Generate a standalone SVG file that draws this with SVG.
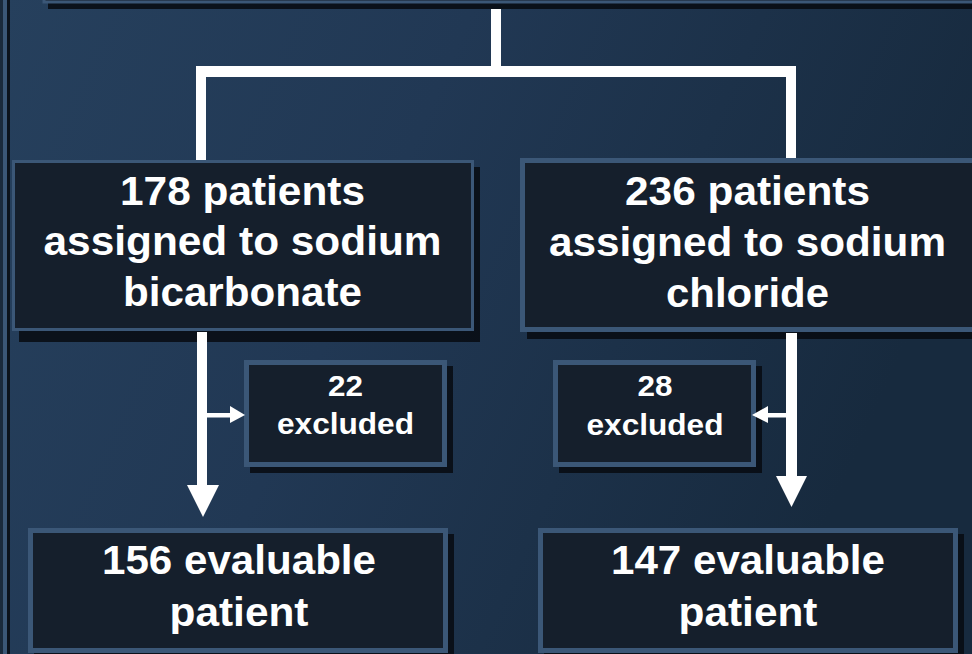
<svg xmlns="http://www.w3.org/2000/svg" width="972" height="654" viewBox="0 0 972 654">
<style>
.box{fill:#151f2c;stroke:#3b5777;}
.sh{fill:#070b10;opacity:0.85;}
.t{font-family:"Liberation Sans",Arial,sans-serif;font-weight:bold;fill:#ffffff;text-anchor:middle;}
.big{font-size:40px;}
.sm{font-size:30px;}
.ln{fill:#ffffff;}
</style>
<defs>
<linearGradient id="bg" x1="0" y1="0" x2="1" y2="0.3">
<stop offset="0" stop-color="#26405d"/>
<stop offset="0.45" stop-color="#213854"/>
<stop offset="1" stop-color="#172a3e"/>
</linearGradient>
</defs>
<rect x="0" y="0" width="972" height="654" fill="url(#bg)"/>
<g id="frame-left">
<rect class="sh" x="-100" y="-10" width="110" height="680"/>
<rect x="-100" y="-10" width="105" height="680" fill="#1a2a3c" stroke="#3b5777" stroke-width="4"/>
</g>
<g id="top-box">
<rect class="sh" x="48" y="-100" width="940" height="109"/>
<rect class="box" x="44" y="-100" width="940" height="102" stroke-width="3"/>
</g>
<g id="node-bicarbonate">
<rect class="sh" x="19" y="167" width="461" height="175"/>
<rect class="box" x="13.5" y="161.5" width="459" height="168" stroke-width="3"/>
<text class="t big" x="242.5" y="205" textLength="245" lengthAdjust="spacingAndGlyphs">178 patients</text>
<text class="t big" x="242.5" y="255" textLength="398" lengthAdjust="spacingAndGlyphs">assigned to sodium</text>
<text class="t big" x="242.5" y="306" textLength="239" lengthAdjust="spacingAndGlyphs">bicarbonate</text>
</g>
<g id="node-chloride">
<rect class="sh" x="527" y="165" width="460" height="174"/>
<rect class="box" x="522.5" y="160.5" width="460" height="169" stroke-width="5"/>
<text class="t big" x="747.5" y="205" textLength="245" lengthAdjust="spacingAndGlyphs">236 patients</text>
<text class="t big" x="747.5" y="256" textLength="397" lengthAdjust="spacingAndGlyphs">assigned to sodium</text>
<text class="t big" x="747.5" y="307" textLength="163" lengthAdjust="spacingAndGlyphs">chloride</text>
</g>
<g id="node-excluded-22">
<rect class="sh" x="250" y="366" width="203" height="107"/>
<rect class="box" x="246.5" y="362.5" width="198" height="102" stroke-width="5"/>
<text class="t sm" x="345.5" y="396" textLength="35" lengthAdjust="spacingAndGlyphs">22</text>
<text class="t sm" x="345.5" y="434" textLength="137" lengthAdjust="spacingAndGlyphs">excluded</text>
</g>
<g id="node-excluded-28">
<rect class="sh" x="559" y="366" width="203" height="107"/>
<rect class="box" x="555.5" y="362.5" width="198" height="102" stroke-width="5"/>
<text class="t sm" x="655" y="396" textLength="35" lengthAdjust="spacingAndGlyphs">28</text>
<text class="t sm" x="655" y="435" textLength="137" lengthAdjust="spacingAndGlyphs">excluded</text>
</g>
<g id="node-evaluable-156">
<rect class="sh" x="34" y="534" width="420" height="130"/>
<rect class="box" x="30.5" y="530.5" width="415" height="120" stroke-width="5"/>
<text class="t big" x="239" y="574" textLength="274" lengthAdjust="spacingAndGlyphs">156 evaluable</text>
<text class="t big" x="239" y="626" textLength="139" lengthAdjust="spacingAndGlyphs">patient</text>
</g>
<g id="node-evaluable-147">
<rect class="sh" x="544" y="534" width="420" height="130"/>
<rect class="box" x="540.5" y="530.5" width="415" height="120" stroke-width="5"/>
<text class="t big" x="748" y="574" textLength="274" lengthAdjust="spacingAndGlyphs">147 evaluable</text>
<text class="t big" x="748" y="626" textLength="139" lengthAdjust="spacingAndGlyphs">patient</text>
</g>
<g id="connectors">
<rect class="ln" x="491" y="9" width="10" height="68"/>
<rect class="ln" x="196" y="66" width="600" height="11"/>
<rect class="ln" x="196" y="66" width="10" height="94"/>
<rect class="ln" x="786" y="66" width="10" height="92"/>
<rect class="ln" x="197" y="332" width="10" height="155"/>
<polygon class="ln" points="187,485 219,485 203,517"/>
<rect class="ln" x="786" y="333" width="11" height="145"/>
<polygon class="ln" points="776,476 807,476 791.5,507"/>
<rect class="ln" x="207" y="413" width="25" height="4.5"/>
<polygon class="ln" points="230,406 245,415 230,423"/>
<rect class="ln" x="766" y="413" width="21" height="4.5"/>
<polygon class="ln" points="768,406 752,415 768,423"/>
</g>
</svg>
